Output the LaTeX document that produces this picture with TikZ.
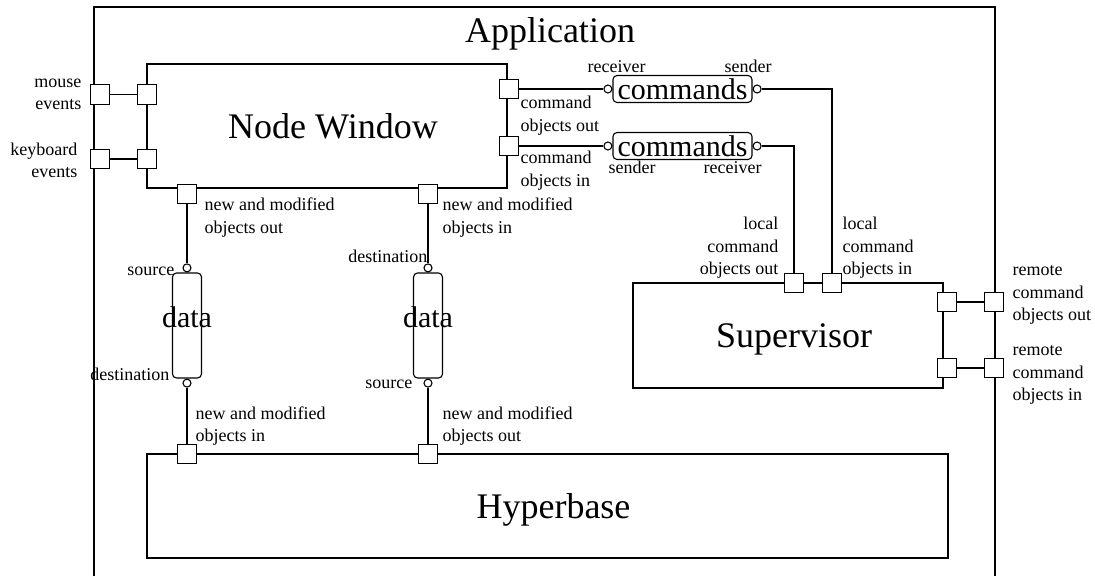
\documentclass[tikz,border=0pt]{standalone}
\usepackage{fontspec}
\setmainfont{Liberation Serif}
\usetikzlibrary{positioning}
\begin{document}
\begin{tikzpicture}[x=1pt, y=-1pt, line width=1.1pt, line join=miter,
  comp/.style={draw, inner sep=0pt, font=\fontsize{36}{40}\selectfont, text height=24.6pt, text depth=0pt},
  port/.style={draw, fill=white, minimum size=19.5pt, inner sep=0pt},
  plug/.style={circle, draw, fill=white, minimum size=8pt, inner sep=0pt},
  pipe/.style={draw, rounded corners=4pt, inner sep=0pt, font=\fontsize{30}{32}\selectfont, text height=20.5pt, text depth=0pt},
  lbl/.style={inner sep=0pt, font=\fontsize{18}{22.5}\selectfont}]
 \useasboundingbox (0,0) rectangle (1095,576);
 \draw (94,576)--(94,7)--(995,7)--(995,576);
 \node[font=\fontsize{36}{40}\selectfont, anchor=base] (app) at (550,42) {Application};
 % components
 \node[comp, minimum width=360pt, minimum height=124pt] (nw) at (327,126) {\hspace*{12pt}Node Window};
 \node[comp, minimum width=310pt, minimum height=105pt, yshift=-3pt] (sup) at (788,332.5) {\hspace*{12pt}Supervisor};
 \node[comp, minimum width=801pt, minimum height=104pt] (hb) at (547.5,506) {\hspace*{12pt}Hyperbase};
 % connectors
 \node[pipe, minimum width=139pt, minimum height=27pt] (cmd1) at (682.5,89) {commands};
 \node[pipe, minimum width=139pt, minimum height=27pt] (cmd2) at (682.5,146) {commands};
 \node[pipe, minimum width=29pt, minimum height=105pt, label={[font=\fontsize{30}{32}\selectfont, yshift=8pt]center:data}] (dat1) at (187,325.5) {};
 \node[pipe, minimum width=29pt, minimum height=105pt, label={[font=\fontsize{30}{32}\selectfont, yshift=8pt]center:data}] (dat2) at (428,325.5) {};
 \node[plug, left=0pt of cmd1] (cmd1a) {};
 \node[plug, right=0pt of cmd1] (cmd1b) {};
 \node[plug, left=0pt of cmd2] (cmd2a) {};
 \node[plug, right=0pt of cmd2] (cmd2b) {};
 \node[plug, above=0pt of dat1] (dat1a) {};
 \node[plug, below=0pt of dat1] (dat1b) {};
 \node[plug, above=0pt of dat2] (dat2a) {};
 \node[plug, below=0pt of dat2] (dat2b) {};
 % ports
 \foreach \n/\x/\y in {mouse/100/94.5, keys/100/159, nwl1/147/94.5, nwl2/147/159, nwr1/509/89, nwr2/509/146,
   nwb1/187/194, nwb2/428/194, hbt1/187/454, hbt2/428/454, supt1/794/283, supt2/832/283,
   supr1/947/302, supr2/947/368, rem1/994/302, rem2/994/368}
   \node[port] (\n) at (\x,\y) {};
 \draw (mouse)--(nwl1) (keys)--(nwl2) (supr1)--(rem1) (supr2)--(rem2);
 \draw (nwr1)--(cmd1a) (nwr2)--(cmd2a) (cmd1b)-|(supt2) (cmd2b)-|(supt1);
 \draw (nwb1)--(dat1a) (dat1b)--(hbt1) (nwb2)--(dat2a) (dat2b)--(hbt2);
 % labels
 \node[lbl, align=right, anchor=east] (lmouse) at (82,94.5) {mouse\\events};
 \node[lbl, align=right, anchor=east] (lkeys) at (78,160.5) {keyboard\\events};
 \node[lbl, align=left, anchor=west] (lcout) at (520,115.5) {command\\objects out};
 \node[lbl, align=left, anchor=west] (lcin) at (520,170.5) {command\\objects in};
 \node[lbl, anchor=base west] (lrec1) at (587,72.5) {receiver};
 \node[lbl, anchor=base west] (lsnd1) at (724,72.5) {sender};
 \node[lbl, anchor=base west] (lsnd2) at (608,173.5) {sender};
 \node[lbl, anchor=base west] (lrec2) at (703,173.5) {receiver};
 \node[lbl, align=left, anchor=west] (lnout) at (204,217.5) {new and modified\\objects out};
 \node[lbl, align=left, anchor=west] (lnin) at (442,217.5) {new and modified\\objects in};
 \node[lbl, anchor=base east] (lsrc1) at (175,275) {source};
 \node[lbl, anchor=base east] (ldst1) at (170,380) {destination};
 \node[lbl, anchor=base east] (ldst2) at (428,262) {destination};
 \node[lbl, anchor=base east] (lsrc2) at (413,388) {source};
 \node[lbl, align=left, anchor=west] (lhin) at (195,426) {new and modified\\objects in};
 \node[lbl, align=left, anchor=west] (lhout) at (442,426) {new and modified\\objects out};
 \node[lbl, align=right, anchor=east] (llout) at (779,248) {local\\command\\objects out};
 \node[lbl, align=left, anchor=west] (llin) at (842,248) {local\\command\\objects in};
 \node[lbl, align=left, anchor=west] (lrout) at (1012,295) {remote\\command\\objects out};
 \node[lbl, align=left, anchor=west] (lrin) at (1012,375) {remote\\command\\objects in};
\end{tikzpicture}
\end{document}
